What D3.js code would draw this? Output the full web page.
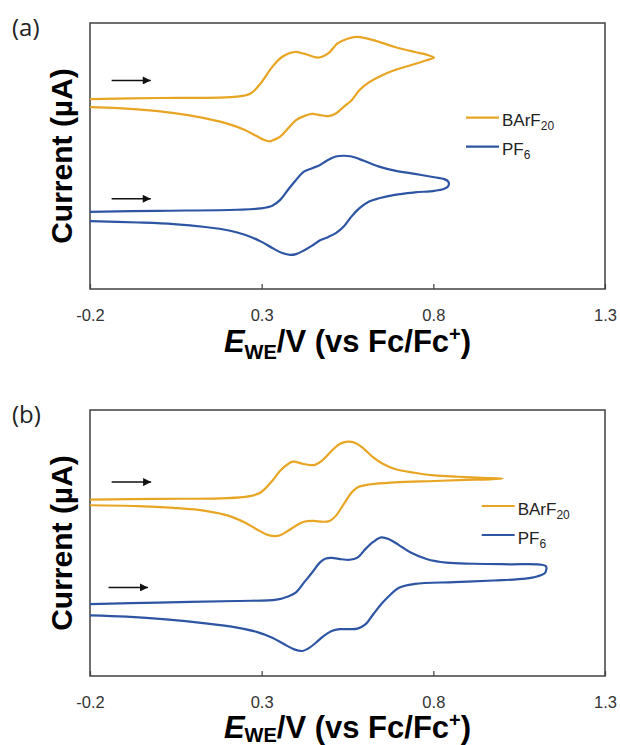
<!DOCTYPE html>
<html>
<head>
<meta charset="utf-8">
<script src="https://cdn.jsdelivr.net/npm/d3@7"></script>
<style>
  body { margin: 0; background: #fff; }
  svg { display: block; }
</style>
</head>
<body>
<svg id="chart" width="620" height="745"></svg>
<script>
// x ticks (V vs Fc/Fc+), current is in arbitrary units (no y ticks in figure)
const xTicks = [-0.2, 0.3, 0.8, 1.3];
const seriesNames = ["BArF", "PF"];
const seriesSubs = ["20", "6"];
const seriesColors = ["#E8A523", "#2D55A3"];

// panel (a) traces: [E (V), current (a.u.)], forward then reverse scan
const aBarf = [
  [-0.200,71.4],[-0.002,71.8],[0.228,72.3],[0.268,73.5],[0.297,77.3],[0.331,83.5],[0.360,87.3],
  [0.395,89.1],[0.423,88.5],[0.464,87.0],[0.493,88.5],[0.521,92.3],[0.550,94.1],[0.577,94.8],
  [0.608,94.1],[0.642,92.9],[0.688,91.0],[0.746,89.1],[0.780,88.1],[0.802,87.0],
  [0.780,86.0],[0.734,84.1],[0.688,82.3],[0.642,79.8],[0.608,77.3],[0.585,74.8],[0.562,71.0],
  [0.539,68.5],[0.516,66.0],[0.493,65.0],[0.470,65.4],[0.447,65.8],[0.423,65.0],[0.400,63.5],
  [0.377,60.4],[0.354,57.3],[0.331,55.8],[0.323,55.5],[0.308,56.0],[0.285,57.5],[0.251,59.8],
  [0.205,62.0],[0.159,63.5],[0.090,65.3],[-0.002,66.9],[-0.117,68.0],[-0.200,68.4]
];
const aPf6 = [
  [-0.200,29.0],[-0.002,29.4],[0.228,29.8],[0.297,30.3],[0.331,31.3],[0.354,33.5],[0.377,37.3],
  [0.400,41.0],[0.423,44.1],[0.447,45.4],[0.470,46.6],[0.493,48.5],[0.516,49.8],[0.539,50.1],
  [0.562,49.8],[0.596,48.3],[0.642,46.0],[0.688,44.5],[0.746,43.3],[0.803,42.0],[0.832,41.3],
  [0.844,40.3],[0.843,38.6],[0.830,37.6],
  [0.803,36.9],[0.746,36.3],[0.688,35.4],[0.642,34.1],[0.613,32.9],[0.585,30.4],[0.562,27.3],
  [0.539,23.5],[0.516,21.0],[0.493,19.5],[0.470,18.3],[0.447,16.3],[0.423,14.5],[0.400,13.1],
  [0.383,12.8],[0.360,13.5],[0.331,15.4],[0.297,17.9],[0.251,20.4],[0.205,22.0],[0.136,23.3],
  [0.044,24.4],[-0.060,25.0],[-0.200,25.5]
];

// panel (b) traces
const bBarf = [
  [-0.200,66.3],[-0.002,66.6],[0.182,66.8],[0.262,67.5],[0.297,69.0],[0.331,73.4],[0.354,77.2],
  [0.377,79.7],[0.391,80.6],[0.423,79.7],[0.452,79.3],[0.475,80.9],[0.504,84.7],[0.527,87.2],
  [0.550,88.1],[0.573,87.6],[0.596,85.6],[0.625,82.2],[0.654,79.7],[0.688,77.8],[0.746,76.4],
  [0.803,75.4],[0.872,74.9],[0.941,74.5],[1.002,74.2],
  [0.964,73.9],[0.895,73.7],[0.803,73.3],[0.688,72.8],[0.619,72.1],[0.579,70.9],[0.562,69.0],
  [0.539,64.6],[0.516,60.2],[0.498,58.3],[0.475,58.0],[0.452,58.3],[0.423,58.0],[0.400,56.5],
  [0.377,54.6],[0.354,52.9],[0.337,52.6],[0.314,53.2],[0.285,55.2],[0.251,57.7],[0.205,60.2],
  [0.136,62.1],[0.044,63.2],[-0.060,63.9],[-0.200,64.2]
];
const bPf6 = [
  [-0.200,27.0],[-0.002,27.6],[0.228,28.2],[0.343,28.7],[0.377,29.9],[0.400,31.4],[0.423,35.1],
  [0.447,38.9],[0.470,42.7],[0.487,44.2],[0.504,44.4],[0.533,43.9],[0.556,43.7],[0.579,44.5],
  [0.602,47.7],[0.625,50.4],[0.648,52.1],[0.671,51.4],[0.700,49.2],[0.734,46.4],[0.780,44.0],
  [0.838,42.6],[0.918,42.2],[1.022,42.0],[1.110,41.9],[1.128,41.3],[1.126,38.9],[1.102,37.4],
  [1.068,36.6],[0.976,35.9],[0.861,35.3],[0.746,34.6],[0.700,33.2],[0.671,30.1],[0.648,27.0],
  [0.625,23.2],[0.602,19.4],[0.579,17.8],[0.556,17.6],[0.527,17.6],[0.504,16.9],[0.481,15.1],
  [0.458,12.5],[0.435,10.3],[0.418,9.4],[0.395,10.0],[0.366,11.9],[0.331,14.4],[0.285,16.6],
  [0.228,18.2],[0.136,19.8],[0.021,21.3],[-0.094,22.3],[-0.200,22.8]
];

// scan-direction arrows: [E start, E end, current]
const aArrows = [[-0.137,-0.023,78.4],[-0.137,-0.023,33.9]];
const bArrows = [[-0.137,-0.022,72.9],[-0.146,-0.031,33.3]];

const svg = d3.select("#chart");
const left = 90, right = 605, panelH = 266;
const font = "Arial, 'Liberation Sans', sans-serif";

svg.append("defs").append("marker")
  .attr("id", "head")
  .attr("viewBox", "0 0 10 10")
  .attr("refX", 10).attr("refY", 5)
  .attr("markerWidth", 9).attr("markerHeight", 8)
  .attr("markerUnits", "userSpaceOnUse")
  .attr("orient", "auto")
  .append("path").attr("d", "M0,0L10,5L0,10Z").attr("fill", "#111");

function drawPanel(top, label, traces, arrows, legendX, legendY, titleY, subDy) {
  let g = svg.append("g");
  let x = d3.scaleLinear().domain([-0.2, 1.3]).range([left, right]);
  let y = d3.scaleLinear().domain([0, 100]).range([top + panelH, top]);

  // frame
  g.append("rect")
    .attr("x", left).attr("y", top)
    .attr("width", right - left).attr("height", panelH)
    .attr("fill", "none").attr("stroke", "#404040").attr("stroke-width", 1.5);

  let xAxis = d3.axisBottom(x).tickValues(xTicks).tickFormat(d => d.toFixed(1))
    .tickSize(-5).tickPadding(20);
  let axisG = g.append("g").attr("transform", "translate(0," + (top + panelH) + ")").call(xAxis);
  axisG.select(".domain").remove();
  axisG.selectAll("line").attr("stroke", "#404040").attr("stroke-width", 1.2);
  axisG.selectAll("text").attr("font-family", font).attr("font-size", 16.5).attr("fill", "#333");

  let line = d3.line()
    .x(d => x(d[0])).y(d => y(d[1]))
    .curve(d3.curveCatmullRom.alpha(0.5));

  traces.forEach((t, i) => {
    g.append("path")
      .attr("d", line(t))
      .attr("fill", "none")
      .attr("stroke", seriesColors[i])
      .attr("stroke-width", 2.2)
      .attr("stroke-linejoin", "round");
  });

  arrows.forEach(a => {
    g.append("line")
      .attr("x1", x(a[0])).attr("x2", x(a[1]))
      .attr("y1", y(a[2])).attr("y2", y(a[2]))
      .attr("stroke", "#111").attr("stroke-width", 1.5)
      .attr("marker-end", "url(#head)");
  });

  // legend
  seriesNames.forEach((n, i) => {
    let ly = legendY + i * 29;
    g.append("line")
      .attr("x1", legendX).attr("x2", legendX + 33)
      .attr("y1", ly).attr("y2", ly)
      .attr("stroke", seriesColors[i]).attr("stroke-width", 2.2);
    let t = g.append("text")
      .attr("x", legendX + 36).attr("y", ly + 8.5)
      .attr("font-family", font).attr("font-size", 17).attr("fill", "#222");
    t.append("tspan").text(n);
    t.append("tspan").attr("font-size", 12).attr("dy", 4).text(seriesSubs[i]);
  });

  // panel label
  svg.append("text")
    .attr("x", 12).attr("y", top + 13)
    .attr("font-family", "'Open Sans', sans-serif").attr("font-size", 24).attr("fill", "#222")
    .text(label);

  // y title
  svg.append("text")
    .attr("transform", "translate(72," + (top + panelH / 2) + ") rotate(-90)")
    .attr("text-anchor", "middle")
    .attr("font-family", font).attr("font-size", 30).attr("font-weight", "bold")
    .text("Current (µA)");

  // x title
  let xt = svg.append("text")
    .attr("x", (left + right) / 2).attr("y", titleY)
    .attr("text-anchor", "middle")
    .attr("font-family", font).attr("font-size", 31).attr("font-weight", "bold");
  xt.append("tspan").attr("font-style", "italic").text("E");
  xt.append("tspan").attr("font-size", 20).attr("dy", subDy).text("WE");
  xt.append("tspan").attr("dy", -subDy).text("/V (vs Fc/Fc");
  xt.append("tspan").attr("font-size", 20).attr("dy", -11).text("+");
  xt.append("tspan").attr("dy", 11).text(")");
}

drawPanel(23, "(a)", [aBarf, aPf6], aArrows, 466, 117.7, 352, 7);
drawPanel(410, "(b)", [bBarf, bPf6], bArrows, 481.7, 506, 737.5, 4.5);
</script>
</body>
</html>
